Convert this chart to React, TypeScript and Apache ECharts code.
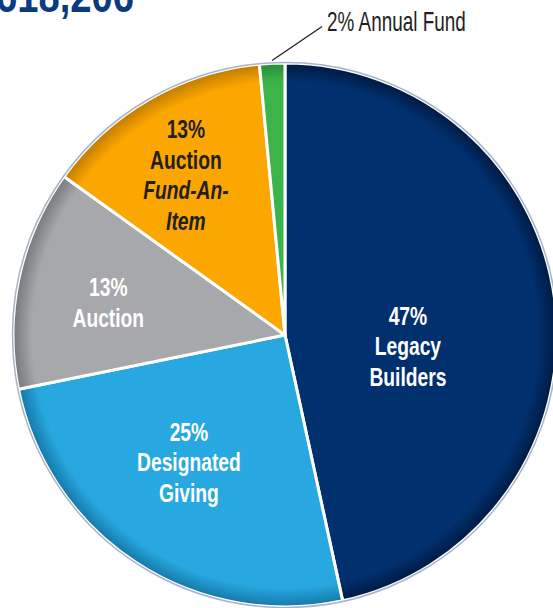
import React, { useEffect, useRef } from "react";
import * as echarts from "echarts";

const categories = ["Legacy Builders", "Designated Giving", "Auction", "Auction Fund-An-Item", "Annual Fund"];
const values = [46.6, 25.2, 13.1, 13.6, 1.5];
const labelLines = [
  ["{w|47%}", "{w|Legacy}", "{w|Builders}"],
  ["{w|25%}", "{w|Designated}", "{w|Giving}"],
  ["{w|13%}", "{w|Auction}"],
  ["{d|13%}", "{d|Auction}", "{di|Fund-An-}", "{di|Item}"],
];
const outsideLabel = "2% Annual Fund";
const titleText = "$1,618,206";

const COLORS = ["#00306e", "#27a8e0", "#a7a8ab", "#fca600", "#3bb54a"];
const DARK = ["#001a42", "#1577a8", "#77787b", "#c07c00", "#278a35"];
const CX = 285;
const CY = 335;
const R = 272;
// label placement (radius ratio, angle shift in degrees)
const LABEL_PLACE = [
  [0.454, 11.7],
  [0.588, 3.8],
  [0.66, -1.9],
  [0.69, -2.0],
];
const FONT = "'Liberation Sans', Arial, sans-serif";
const SQUEEZE = 0.77;

export default function App() {
  const ref = useRef<HTMLDivElement>(null);
  useEffect(() => {
    const chart = echarts.init(ref.current!, null, { renderer: "svg" });
    const total = values.reduce((a, b) => a + b, 0);
    let cum = 0;
    const mids: number[] = [];
    values.forEach((p) => {
      mids.push(((cum + p / 2) / total) * 360);
      cum += p;
    });
    const pt = (angDeg: number, r: number) => {
      const a = (angDeg * Math.PI) / 180;
      return [CX + Math.sin(a) * r, CY - Math.cos(a) * r];
    };
    const graphics: any[] = [];
    labelLines.forEach((lines, i) => {
      const [ratio, shift] = LABEL_PLACE[i];
      const [x, y] = pt(mids[i] + shift, R * ratio);
      graphics.push({
        type: "text",
        x,
        y,
        scaleX: SQUEEZE,
        z: 10,
        style: {
          text: lines.join("\n"),
          align: "center",
          verticalAlign: "middle",
          rich: {
            w: { fill: "#ffffff", fontFamily: FONT, fontWeight: "bold", fontSize: 25, lineHeight: 30.5, align: "center" },
            d: { fill: "#231f20", fontFamily: FONT, fontWeight: "bold", fontSize: 25, lineHeight: 30.5, align: "center" },
            di: { fill: "#231f20", fontFamily: FONT, fontWeight: "bold", fontStyle: "italic", fontSize: 25, lineHeight: 30.5, align: "center" },
          },
        },
      });
    });
    const last = values.length - 1;
    const [sx, sy] = pt(mids[last], R * 1.01);
    const ex = sx + 50;
    const ey = sy - 34;
    graphics.push({
      type: "line",
      z: 10,
      shape: { x1: sx, y1: sy, x2: ex, y2: ey },
      style: { stroke: "#231f20", lineWidth: 1.3 },
    });
    graphics.push({
      type: "text",
      x: ex + 5,
      y: ey - 5,
      scaleX: 0.7,
      z: 10,
      style: {
        text: outsideLabel,
        fill: "#231f20",
        fontFamily: FONT,
        fontSize: 27,
        align: "left",
        verticalAlign: "middle",
      },
    });
    graphics.push({
      type: "text",
      x: 134,
      y: 19,
      scaleX: 0.83,
      z: 10,
      style: {
        text: titleText,
        fill: "#0b3a7e",
        fontFamily: FONT,
        fontWeight: "bold",
        fontSize: 46,
        align: "right",
        verticalAlign: "bottom",
      },
    });
    graphics.push({
      type: "circle",
      z: 5,
      silent: true,
      shape: { cx: CX, cy: CY, r: R + 0.5 },
      style: { fill: "none", stroke: "#a9b5c7", lineWidth: 1.5 },
    });

    chart.setOption({
      animation: false,
      graphic: graphics,
      series: [
        {
          type: "pie",
          center: [CX, CY],
          radius: [0, R],
          startAngle: 90,
          clockwise: true,
          label: { show: false },
          labelLine: { show: false },
          emphasis: { disabled: true },
          data: categories.map((name, i) => ({
            name,
            value: values[i],
            itemStyle: {
              color: {
                type: "radial",
                x: CX,
                y: CY,
                r: R,
                global: true,
                colorStops: [
                  { offset: 0, color: COLORS[i] },
                  { offset: 0.93, color: COLORS[i] },
                  { offset: 1, color: DARK[i] },
                ],
              },
              borderColor: "#ffffff",
              borderWidth: 3,
            },
          })),
        },
      ],
    });
    return () => chart.dispose();
  }, []);
  return (
    <div
      ref={ref}
      style={{ position: "fixed", left: 0, top: 0, width: 553, height: 608, background: "#ffffff" }}
    />
  );
}
